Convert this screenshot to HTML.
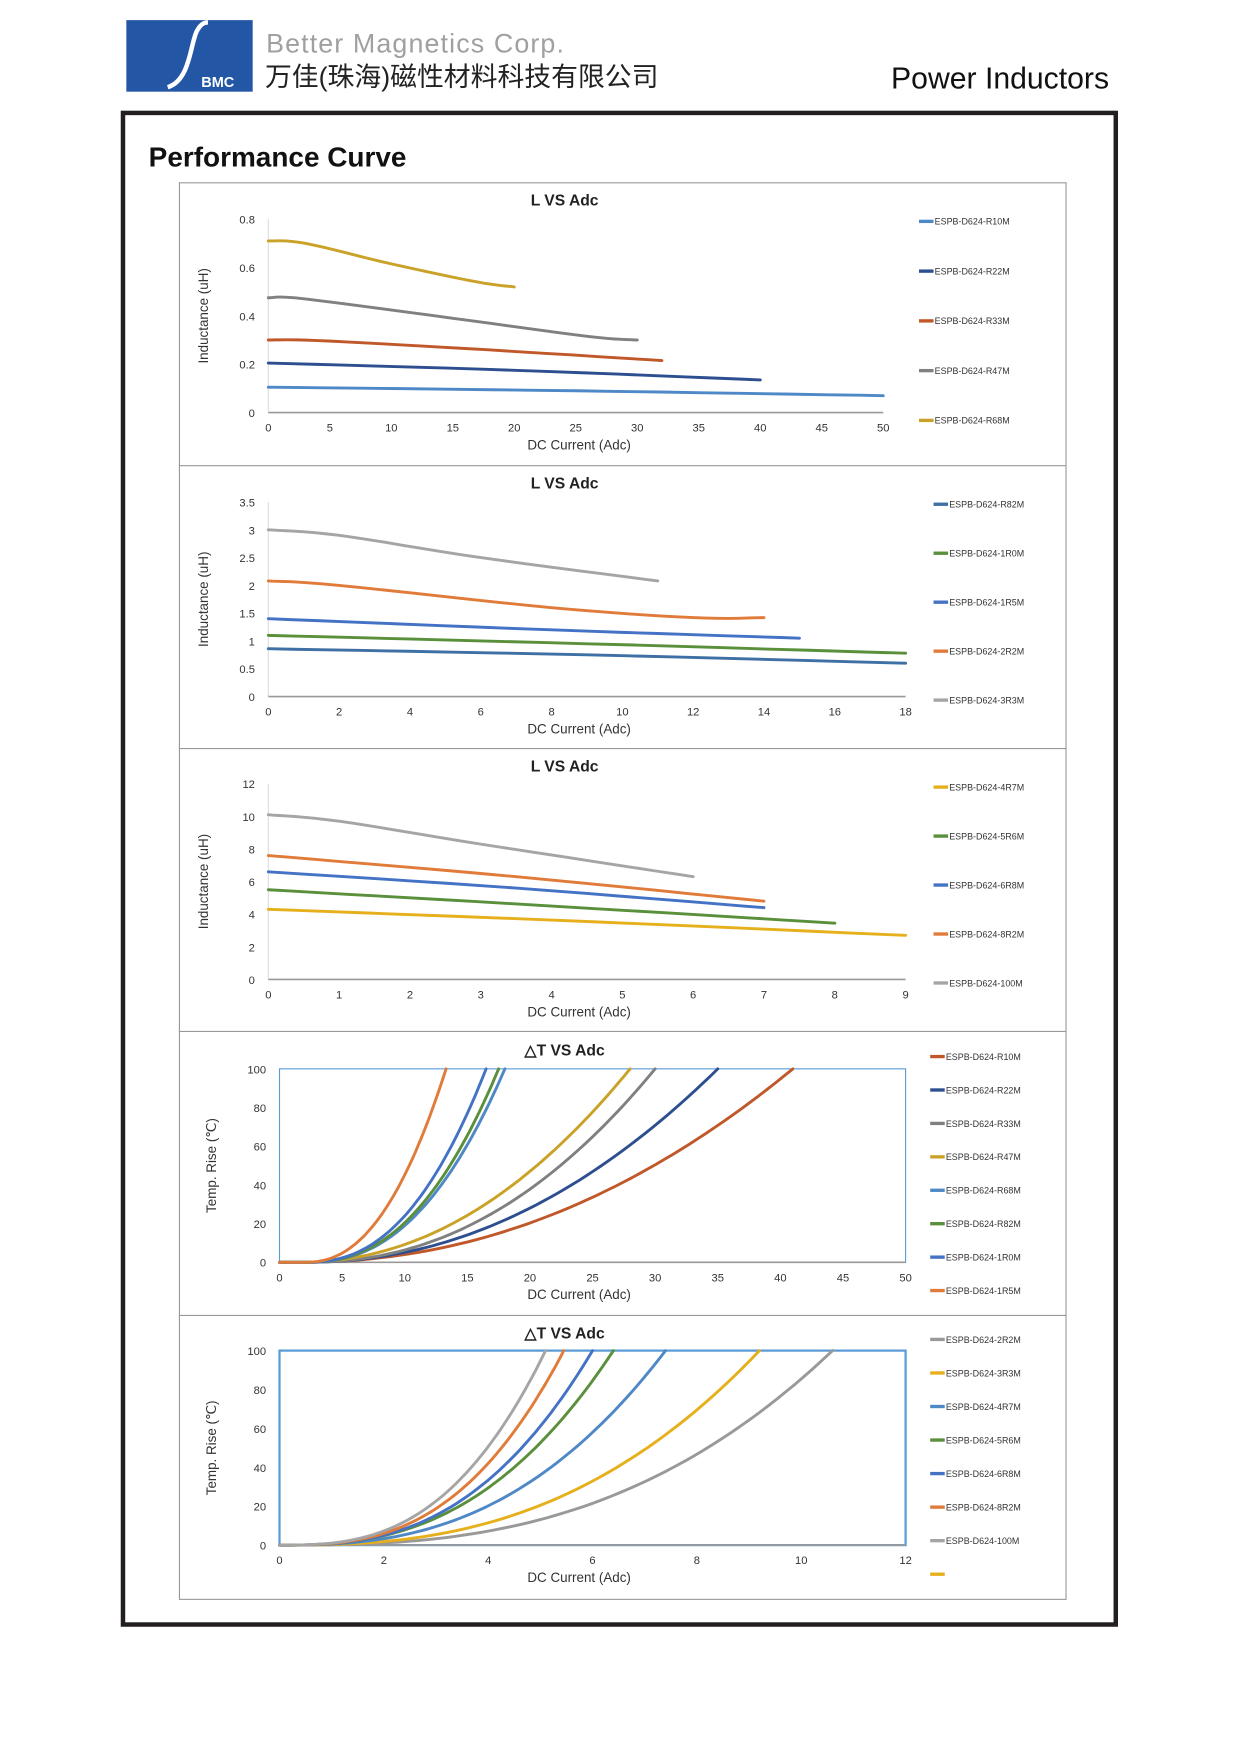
<!DOCTYPE html>
<html><head><meta charset="utf-8">
<style>html,body{margin:0;padding:0;background:#fff}svg{display:block}</style>
</head><body>
<svg id="s" xmlns="http://www.w3.org/2000/svg" width="1241" height="1755" viewBox="0 0 1110 1569.7" preserveAspectRatio="none" font-family="Liberation Sans, sans-serif">
<rect width="1110" height="1570" fill="#fff"/>
<rect x="113" y="18" width="113" height="64" fill="#2456a6"/>
<path d="M150 78 C170 72 170 40 176 28 C179 22 182 20 186 20" stroke="#fff" stroke-width="4" fill="none"/>
<text x="180" y="78" font-size="13" font-weight="bold" fill="#fff">BMC</text>
<text x="238" y="47" font-size="24" fill="#a0a0a0" letter-spacing="1">Better Magnetics Corp.</text>
<text x="237" y="77" font-size="24" fill="#222" font-family="Liberation Sans, Noto Sans CJK SC, sans-serif">万佳(珠海)磁性材料科技有限公司</text>
<text x="992" y="79" font-size="27" fill="#111" text-anchor="end">Power Inductors</text>
<rect x="110" y="101" width="888" height="1352" fill="none" stroke="#231f20" stroke-width="4"/>
<text x="133" y="149" font-size="25" font-weight="bold" fill="#111">Performance Curve</text>
<rect x="160.5" y="163.5" width="793" height="1267" fill="none" stroke="#999" stroke-width="1"/>
<g stroke="#999" stroke-width="1"><line x1="160" y1="416.5" x2="953" y2="416.5"/><line x1="160" y1="669.5" x2="953" y2="669.5"/><line x1="160" y1="922.5" x2="953" y2="922.5"/><line x1="160" y1="1176.5" x2="953" y2="1176.5"/></g>
<g id="g"></g>
</svg>
<script>
var g=document.getElementById('g'),h='';
function T(x,y,t,o){o=o||{};h+='<text x="'+x+'" y="'+y+'" font-size="'+(o.s||10)+'" fill="'+(o.c||'#333')+'"'+(o.a?' text-anchor="'+o.a+'"':'')+(o.b?' font-weight="bold"':'')+(o.r?' transform="rotate(-90 '+x+' '+y+')"':'')+'>'+t+'</text>';}
function P(pts,c,w){h+='<polyline points="'+pts.map(function(p){return p[0].toFixed(1)+','+p[1].toFixed(1)}).join(' ')+'" fill="none" stroke="'+c+'" stroke-width="'+(w||2.6)+'" stroke-linejoin="round" stroke-linecap="round"/>';}
function interp(p,n){var out=[];for(var i=0;i<p.length-1;i++){var p0=p[Math.max(i-1,0)],p1=p[i],p2=p[i+1],p3=p[Math.min(i+2,p.length-1)];for(var k=0;k<n;k++){var t=k/n,t2=t*t,t3=t2*t;var f=function(a,b,c,d){return 0.5*((2*b)+(-a+c)*t+(2*a-5*b+4*c-d)*t2+(-a+3*b-3*c+d)*t3)};out.push([f(p0[0],p1[0],p2[0],p3[0]),f(p0[1],p1[1],p2[1],p3[1])]);}}out.push(p[p.length-1]);return out;}
function panel(o){
 var X=function(v){return o.x0+(o.x1-o.x0)*v/o.xm},Y=function(v){return o.y0-(o.y0-o.y1)*v/o.ym};
 T(505,o.ty,o.title,{s:14,b:1,a:'middle',c:'#222'});
 if(o.box){h+='<rect x="'+o.x0+'" y="'+o.y1+'" width="'+(o.x1-o.x0)+'" height="'+(o.y0-o.y1)+'" fill="none" stroke="#5b9bd5" stroke-width="'+(o.bw||1)+'"/>';}
 else h+='<line x1="'+o.x0+'" y1="'+o.y1+'" x2="'+o.x0+'" y2="'+o.y0+'" stroke="#ddd" stroke-width="1"/>';
 h+='<line x1="'+o.x0+'" y1="'+o.y0+'" x2="'+o.x1+'" y2="'+o.y0+'" stroke="#999" stroke-width="1.5"/>';
 o.yt.forEach(function(v){T(o.x0-12,Y(v)+4,v,{a:'end'});});
 o.xt.forEach(function(v){T(X(v),o.y0+17,v,{a:'middle'});});
 T(518,o.y0+33,'DC Current (Adc)',{s:12,a:'middle'});
 T(o.yx,(o.y0+o.y1)/2,o.ytitle,{s:12,a:'middle',r:1});
 o.series.forEach(function(s,i){
  var pts=s.f?s.f(X,Y):interp(s.p.map(function(p){return[X(p[0]),Y(p[1])]}),8);P(pts,s.c);
  var ly=o.ly0+i*o.ld;h+='<line x1="'+o.lx+'" y1="'+ly+'" x2="'+(o.lx+13)+'" y2="'+ly+'" stroke="'+s.c+'" stroke-width="3"/>';
  T(o.lx+14,ly+3,s.n,{s:8});
 });
 if(o.extra){var ly=o.ly0+o.series.length*o.ld;h+='<line x1="'+o.lx+'" y1="'+ly+'" x2="'+(o.lx+13)+'" y2="'+ly+'" stroke="#e5b01c" stroke-width="3"/>';}
}
function tc(Xm,x0,p){return function(X,Y){var pts=[];for(var i=0;i<=60;i++){var x=Xm*i/60,t=x<=x0?0:100*Math.pow((x-x0)/(Xm-x0),p);pts.push([X(x),Y(t)]);}return pts;}}
var B1='#4f88c6',DB='#2e4f8f',OR='#c0582a',GR='#808080',GD='#c9a227',BL='#4472c4',GN='#5a8f3c',LO='#e07b39',LG='#a5a5a5',YL='#e5b01c';
panel({title:'L VS Adc',ty:184,x0:240,x1:790,xm:50,y0:369,y1:196,ym:0.8,yt:[0,0.2,0.4,0.6,0.8],xt:[0,5,10,15,20,25,30,35,40,45,50],yx:186,ytitle:'Inductance (uH)',lx:822,ly0:198,ld:44.5,
series:[{n:'ESPB-D624-R10M',c:B1,p:[[0,0.105],[25,0.09],[50,0.07]]},
{n:'ESPB-D624-R22M',c:DB,p:[[0,0.205],[20,0.175],[40,0.135]]},
{n:'ESPB-D624-R33M',c:OR,p:[[0,0.30],[4,0.298],[16,0.265],[32,0.215]]},
{n:'ESPB-D624-R47M',c:GR,p:[[0,0.475],[3,0.47],[15,0.39],[26,0.315],[30,0.30]]},
{n:'ESPB-D624-R68M',c:GD,p:[[0,0.71],[3,0.70],[10,0.615],[17,0.54],[20,0.52]]}]});
panel({title:'L VS Adc',ty:437,x0:240,x1:810,xm:18,y0:623,y1:449,ym:3.5,yt:[0,0.5,1,1.5,2,2.5,3,3.5],xt:[0,2,4,6,8,10,12,14,16,18],yx:186,ytitle:'Inductance (uH)',lx:835,ly0:451,ld:43.8,
series:[{n:'ESPB-D624-R82M',c:'#3e6fa5',p:[[0,0.86],[9,0.75],[18,0.6]]},
{n:'ESPB-D624-1R0M',c:GN,p:[[0,1.1],[9,0.95],[18,0.78]]},
{n:'ESPB-D624-1R5M',c:BL,p:[[0,1.4],[8,1.2],[15,1.05]]},
{n:'ESPB-D624-2R2M',c:LO,p:[[0,2.08],[2,2.0],[8,1.6],[12,1.42],[14,1.42]]},
{n:'ESPB-D624-3R3M',c:LG,p:[[0,3.0],[2,2.9],[6,2.5],[11,2.08]]}]});
panel({title:'L VS Adc',ty:690,x0:240,x1:810,xm:9,y0:876,y1:701,ym:12,yt:[0,2,4,6,8,10,12],xt:[0,1,2,3,4,5,6,7,8,9],yx:186,ytitle:'Inductance (uH)',lx:835,ly0:704,ld:43.8,
series:[{n:'ESPB-D624-4R7M',c:YL,p:[[0,4.3],[4.5,3.55],[9,2.7]]},
{n:'ESPB-D624-5R6M',c:GN,p:[[0,5.5],[4,4.5],[8,3.45]]},
{n:'ESPB-D624-6R8M',c:BL,p:[[0,6.6],[3.5,5.6],[7,4.4]]},
{n:'ESPB-D624-8R2M',c:LO,p:[[0,7.6],[3.5,6.3],[7,4.8]]},
{n:'ESPB-D624-100M',c:LG,p:[[0,10.1],[1,9.7],[3,8.3],[6,6.3]]}]});
panel({title:'△T VS Adc',ty:944,box:1,x0:250,x1:810,xm:50,y0:1129,y1:956,ym:100,yt:[0,20,40,60,80,100],xt:[0,5,10,15,20,25,30,35,40,45,50],yx:193,ytitle:'Temp. Rise (℃)',lx:832,ly0:945,ld:29.9,
series:[{n:'ESPB-D624-R10M',c:OR,f:tc(41,1.5,2.1)},{n:'ESPB-D624-R22M',c:DB,f:tc(35,2,2.1)},{n:'ESPB-D624-R33M',c:GR,f:tc(30,2,2.2)},{n:'ESPB-D624-R47M',c:GD,f:tc(28,1.5,2.1)},{n:'ESPB-D624-R68M',c:B1,f:tc(18,2,2.4)},{n:'ESPB-D624-R82M',c:GN,f:tc(17.5,2,2.4)},{n:'ESPB-D624-1R0M',c:BL,f:tc(16.5,2,2.4)},{n:'ESPB-D624-1R5M',c:LO,f:tc(13.3,2,2.3)}]});
panel({title:'△T VS Adc',ty:1197,box:1,bw:2,x0:250,x1:810,xm:12,y0:1382,y1:1208,ym:100,yt:[0,20,40,60,80,100],xt:[0,2,4,6,8,10,12],yx:193,ytitle:'Temp. Rise (℃)',lx:832,ly0:1198,ld:30,extra:1,
series:[{n:'ESPB-D624-2R2M',c:'#999',f:tc(10.6,0,2.7)},{n:'ESPB-D624-3R3M',c:YL,f:tc(9.2,0,2.6)},{n:'ESPB-D624-4R7M',c:B1,f:tc(7.4,0,2.6)},{n:'ESPB-D624-5R6M',c:GN,f:tc(6.4,0,2.6)},{n:'ESPB-D624-6R8M',c:BL,f:tc(6.0,0,2.7)},{n:'ESPB-D624-8R2M',c:LO,f:tc(5.45,0,2.8)},{n:'ESPB-D624-100M',c:LG,f:tc(5.1,0,2.8)}]});
g.innerHTML=h;
</script>
</body></html>
